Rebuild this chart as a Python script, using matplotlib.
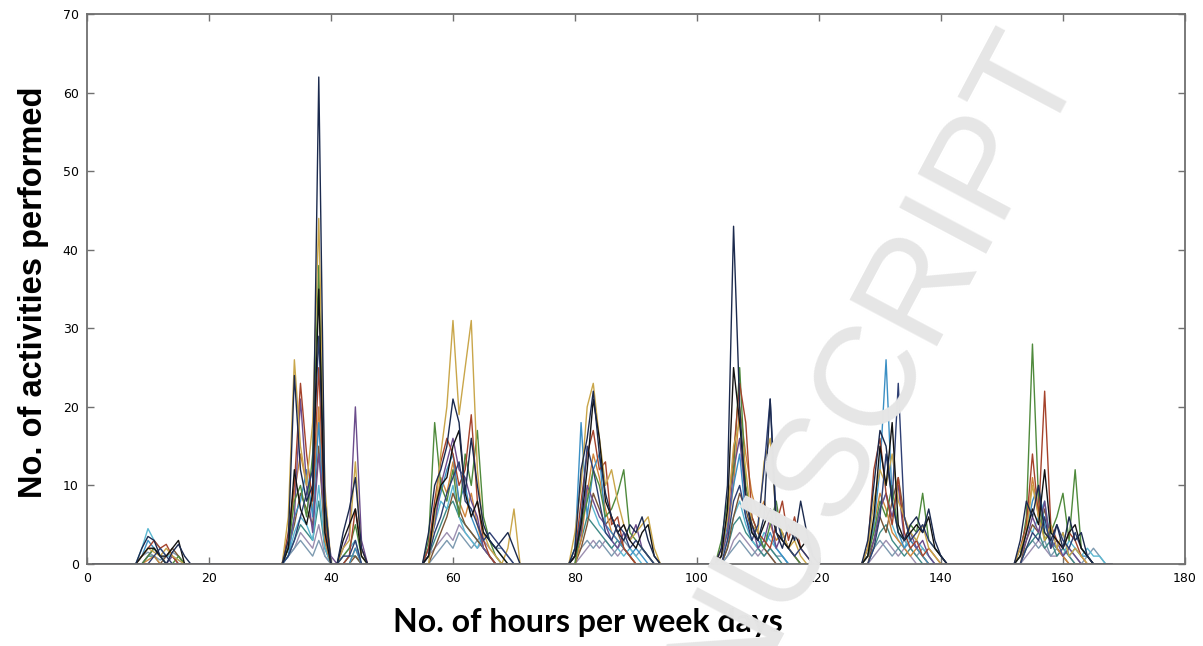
import numpy as np
import matplotlib.pyplot as plt

# hours of the week (1..168)
hours = np.arange(1, 169)

# each series: {start_hour: [values from that hour on]}, zero elsewhere
s_navy = {8: [0, 2, 3.5, 3, 1, 0, 1.5, 2.5, 1, 0],
          32: [0, 3, 24, 12, 8, 10, 62, 8, 0, 0, 4, 7, 11, 2, 0],
          55: [0, 4, 10, 12, 15, 21, 18, 9, 16, 10, 5, 3, 2, 3, 4, 2, 0],
          79: [0, 2, 12, 16, 22, 14, 9, 6, 4, 3, 5, 4, 6, 3, 1, 0],
          103: [0, 2, 10, 43, 20, 8, 5, 3, 6, 21, 4, 2, 5, 3, 8, 4, 1, 0],
          127: [0, 3, 10, 17, 15, 8, 4, 3, 5, 6, 4, 7, 3, 1, 0, 0, 0],
          152: [0, 3, 8, 6, 10, 4, 3, 5, 2, 6, 3, 4, 1, 0, 0, 0]}
s_olive = {8: [0, 1, 2, 1.5, 1, 2, 1, 0.5, 0, 0],
           32: [0, 6, 26, 15, 10, 18, 44, 10, 0, 0, 2, 3, 13, 1, 0],
           55: [0, 0, 6, 14, 20, 31, 19, 25, 31, 12, 4, 2, 1, 0, 2, 7, 0],
           79: [0, 4, 10, 20, 23, 16, 10, 12, 8, 5, 3, 4, 5, 6, 2, 0],
           103: [0, 1, 6, 15, 18, 12, 5, 4, 13, 16, 6, 4, 2, 3, 1, 0, 0, 0],
           127: [0, 2, 8, 12, 10, 14, 8, 6, 4, 3, 5, 2, 1, 0, 0, 0, 0],
           152: [0, 2, 4, 10, 6, 3, 5, 2, 4, 1, 2, 1, 0, 0, 0, 0]}
s_green = {8: [0, 0, 1, 2, 1, 0, 0, 1, 0, 0],
           32: [0, 2, 8, 10, 6, 14, 38, 6, 0, 0, 1, 2, 5, 1, 0],
           55: [0, 3, 18, 10, 8, 12, 6, 14, 10, 17, 6, 3, 1, 0, 0, 0, 0],
           79: [0, 0, 5, 8, 12, 10, 6, 7, 9, 12, 4, 3, 2, 1, 0, 0],
           103: [0, 3, 8, 12, 25, 10, 6, 4, 2, 5, 8, 3, 2, 1, 0, 0, 0, 0],
           127: [0, 1, 4, 8, 6, 10, 4, 3, 5, 4, 9, 3, 2, 1, 0, 0, 0],
           152: [0, 1, 6, 28, 8, 3, 4, 6, 9, 3, 12, 2, 1, 0, 0, 0]}
s_red = {8: [0, 1, 2, 3, 2, 2.5, 1, 0, 0, 0],
         32: [0, 4, 10, 23, 14, 8, 25, 5, 0, 0, 0, 1, 7, 2, 0],
         55: [0, 2, 8, 13, 16, 14, 10, 12, 19, 8, 3, 1, 0, 0, 0, 0, 0],
         79: [0, 1, 8, 14, 17, 12, 13, 5, 6, 2, 1, 0, 0, 0, 0, 0],
         103: [0, 2, 6, 14, 23, 18, 6, 4, 3, 2, 5, 8, 3, 6, 2, 1, 0, 0],
         127: [0, 2, 12, 16, 9, 5, 11, 4, 2, 3, 1, 2, 1, 0, 0, 0, 0],
         152: [0, 2, 5, 14, 6, 22, 5, 3, 2, 4, 3, 1, 0, 0, 0, 0]}
s_blue = {8: [0, 1, 3, 2, 1, 0, 0, 0, 0, 0],
          32: [0, 1, 6, 8, 12, 6, 18, 4, 0, 0, 0, 0, 2, 0, 0],
          55: [0, 1, 6, 9, 12, 14, 8, 10, 6, 4, 2, 1, 0, 0, 0, 0, 0],
          79: [0, 2, 18, 6, 12, 14, 5, 4, 3, 2, 1, 2, 1, 0, 0, 0],
          103: [0, 1, 5, 10, 14, 6, 4, 3, 2, 4, 2, 1, 0, 0, 0, 0, 0, 0],
          127: [0, 1, 5, 12, 26, 8, 4, 2, 3, 2, 1, 0, 0, 0, 0, 0, 0],
          152: [0, 1, 4, 8, 10, 5, 3, 2, 4, 1, 2, 1, 1, 0, 0, 0]}
s_purple = {8: [0, 0, 1, 2, 1, 0, 1, 0, 0, 0],
            32: [0, 2, 6, 21, 10, 4, 14, 6, 1, 0, 2, 4, 20, 3, 0],
            55: [0, 2, 5, 10, 13, 16, 12, 11, 8, 6, 2, 1, 0, 0, 0, 0, 0],
            79: [0, 1, 4, 10, 8, 6, 5, 3, 2, 4, 3, 5, 2, 1, 0, 0],
            103: [0, 1, 4, 12, 16, 8, 5, 2, 3, 6, 2, 4, 2, 1, 0, 0, 0, 0],
            127: [0, 1, 3, 7, 9, 6, 10, 3, 4, 2, 3, 1, 0, 0, 0, 0, 0],
            152: [0, 1, 3, 6, 4, 8, 2, 3, 1, 2, 1, 0, 0, 0, 0, 0]}
s_navy2 = {8: [0, 0, 0, 1, 2, 1, 0, 0, 0, 0],
           32: [0, 1, 3, 6, 9, 12, 29, 8, 0, 0, 1, 1, 3, 0, 0],
           55: [0, 1, 4, 6, 9, 11, 13, 8, 7, 5, 3, 4, 3, 2, 1, 0, 0],
           79: [0, 1, 6, 15, 12, 8, 4, 3, 5, 4, 2, 3, 2, 1, 0, 0],
           103: [0, 0, 3, 8, 10, 6, 3, 5, 12, 21, 6, 3, 2, 1, 2, 1, 0, 0],
           127: [0, 0, 2, 6, 14, 8, 23, 6, 3, 4, 5, 3, 2, 1, 0, 0, 0],
           152: [0, 0, 2, 4, 3, 6, 2, 5, 3, 2, 4, 2, 1, 0, 0, 0]}
s_black = {8: [0, 1, 2, 2, 1, 1, 2, 3, 0, 0],
           32: [0, 2, 12, 7, 5, 9, 35, 4, 0, 0, 3, 5, 7, 1, 0],
           55: [0, 1, 7, 10, 11, 15, 17, 9, 6, 8, 4, 3, 2, 1, 0, 0, 0],
           79: [0, 1, 5, 12, 21, 16, 8, 6, 4, 5, 3, 2, 4, 5, 1, 0],
           103: [0, 1, 7, 25, 18, 9, 4, 3, 5, 7, 4, 3, 2, 4, 2, 3, 1, 0],
           127: [0, 1, 6, 15, 10, 18, 5, 3, 4, 5, 4, 6, 2, 1, 0, 0, 0],
           152: [0, 1, 4, 7, 5, 12, 4, 3, 2, 4, 5, 2, 1, 0, 0, 0]}
s_cyan = {8: [0, 2, 4.5, 3, 2, 1, 1, 0.5, 0, 0],
          32: [0, 1, 4, 6, 5, 3, 10, 2, 0, 0, 1, 2, 3, 0, 0],
          55: [0, 2, 5, 8, 7, 10, 6, 4, 3, 2, 4, 3, 2, 1, 0, 0, 0],
          79: [0, 2, 6, 9, 7, 5, 4, 3, 2, 1, 2, 1, 0, 0, 0, 0],
          103: [0, 1, 3, 6, 8, 5, 3, 2, 4, 3, 2, 1, 0, 0, 0, 0, 0, 0],
          127: [0, 2, 4, 7, 9, 5, 3, 2, 4, 3, 2, 1, 0, 0, 0, 0, 0],
          152: [0, 2, 5, 4, 6, 8, 3, 2, 1, 3, 2, 1, 2, 1, 1, 0]}
s_grey = {8: [0, 1, 1.5, 1, 0.5, 1, 1.5, 1, 0, 0],
          32: [0, 1, 2, 3, 2, 1, 3, 1, 0, 0, 0, 1, 1, 0, 0],
          55: [0, 0, 1, 2, 3, 2, 4, 3, 2, 3, 4, 3, 2, 2, 1, 0, 0],
          79: [0, 1, 2, 3, 2, 3, 2, 1, 2, 3, 2, 1, 2, 1, 0, 0],
          103: [0, 0, 1, 2, 3, 2, 1, 2, 1, 2, 1, 1, 0, 0, 0, 0, 0, 0],
          127: [0, 1, 2, 3, 2, 1, 2, 3, 2, 1, 2, 1, 0, 0, 0, 0, 0],
          152: [0, 1, 2, 3, 2, 3, 1, 2, 1, 2, 1, 0, 1, 2, 1, 0]}
s_orange = {8: [0, 0, 0.5, 1, 0, 0, 0, 0, 0, 0],
            32: [0, 3, 9, 14, 10, 7, 20, 3, 0, 0, 0, 0, 2, 0, 0],
            55: [0, 1, 6, 11, 9, 13, 8, 6, 9, 5, 2, 1, 0, 0, 0, 0, 0],
            79: [0, 0, 3, 9, 14, 11, 7, 4, 3, 2, 1, 0, 0, 0, 0, 0],
            103: [0, 1, 4, 10, 20, 14, 9, 6, 8, 5, 3, 4, 2, 1, 0, 0, 0, 0],
            127: [0, 1, 5, 9, 7, 4, 3, 2, 1, 2, 1, 0, 0, 0, 0, 0, 0],
            152: [0, 1, 4, 11, 6, 4, 3, 2, 1, 0, 0, 0, 0, 0, 0, 0]}
s_teal = {8: [0, 0, 1, 1, 0, 0, 0, 0, 0, 0],
          32: [0, 1, 3, 5, 4, 3, 8, 2, 0, 0, 0, 1, 1, 0, 0],
          55: [0, 1, 3, 5, 7, 8, 6, 5, 4, 3, 2, 1, 0, 0, 0, 0, 0],
          79: [0, 1, 3, 6, 5, 4, 3, 2, 3, 2, 1, 0, 0, 0, 0, 0],
          103: [0, 0, 2, 5, 6, 4, 3, 2, 1, 2, 1, 0, 0, 0, 0, 0, 0, 0],
          127: [0, 0, 2, 4, 5, 3, 2, 1, 2, 1, 0, 0, 0, 0, 0, 0, 0],
          152: [0, 0, 2, 3, 4, 2, 3, 1, 2, 1, 0, 0, 0, 0, 0, 0]}
s_brown = {8: [0, 0, 0, 0, 0, 1, 2, 1, 0, 0],
           32: [0, 2, 5, 9, 7, 5, 15, 3, 0, 0, 0, 0, 1, 0, 0],
           55: [0, 0, 2, 4, 6, 9, 7, 5, 4, 3, 2, 1, 0, 0, 0, 0, 0],
           79: [0, 0, 2, 5, 9, 7, 5, 6, 4, 2, 1, 0, 0, 0, 0, 0],
           103: [0, 0, 2, 6, 9, 7, 4, 3, 2, 1, 0, 0, 0, 0, 0, 0, 0, 0],
           127: [0, 0, 3, 6, 4, 8, 11, 6, 3, 2, 1, 0, 0, 0, 0, 0, 0],
           152: [0, 0, 3, 5, 4, 7, 3, 2, 1, 0, 0, 0, 0, 0, 0, 0]}
s_lav = {32: [0, 1, 2, 4, 3, 2, 5, 1, 0, 0, 0, 0, 0, 0, 0],
         55: [0, 1, 2, 3, 4, 3, 5, 4, 3, 2, 3, 2, 1, 0, 0, 0, 0],
         79: [0, 0, 1, 2, 3, 2, 3, 2, 1, 2, 1, 0, 0, 0, 0, 0],
         103: [0, 0, 1, 3, 4, 3, 2, 1, 2, 1, 0, 0, 0, 0, 0, 0, 0, 0],
         127: [0, 0, 1, 2, 3, 2, 1, 2, 1, 0, 0, 0, 0, 0, 0, 0, 0],
         152: [0, 0, 1, 2, 3, 2, 1, 1, 2, 1, 0, 0, 0, 0, 0, 0]}

series = [s_lav, s_grey, s_teal, s_cyan, s_brown, s_orange, s_blue, s_purple,
          s_green, s_red, s_olive, s_navy2, s_black, s_navy]
colors = ['#9c8fb0', '#7d9ab0', '#3f8a86', '#5bb8d2', '#7a5636', '#d1873c', '#3b8fc4',
          '#6b4c8c', '#4f8a3c', '#a5432c', '#c9a64a', '#2e3f73', '#121212', '#1b2a4e']

fig = plt.figure(figsize=(12.03, 6.46), dpi=100)
ax = fig.add_axes([0.0723, 0.127, 0.9127, 0.851])

for s, c in zip(series, colors):
    y = np.zeros(len(hours))
    for start, vals in s.items():
        y[start - 1:start - 1 + len(vals)] = vals
    ax.plot(hours, y, color=c, lw=1.0)

ax.set_xlim(0, 180)
ax.set_ylim(0, 70)
ax.set_xticks(range(0, 181, 20))
ax.set_yticks(range(0, 71, 10))
ax.tick_params(direction='in', top=True, right=True, length=5, width=1,
               color='#707070', labelsize=9, pad=6)
for sp in ax.spines.values():
    sp.set_color('#707070')
    sp.set_linewidth(1.3)

fig.text(588 / 1203, 1 - 632 / 646, 'No. of hours per week days', ha='center', va='baseline',
         fontsize=23, fontweight='bold', family='Lato')
fig.text(42 / 1203, 1 - 292 / 646, 'No. of activities performed', ha='center', va='baseline',
         rotation=90, rotation_mode='anchor', fontsize=23.5, fontweight='bold',
         family='Liberation Sans')

# diagonal watermark over the plot
fig.text(857.6 / 1203, 1 - 474.9 / 646, 'MANUSCRIPT', rotation=62, rotation_mode='anchor',
         ha='center', va='baseline', fontsize=103, color='#e6e6e6',
         family='Liberation Sans', zorder=10)

fig.savefig('out.png', dpi=100)
